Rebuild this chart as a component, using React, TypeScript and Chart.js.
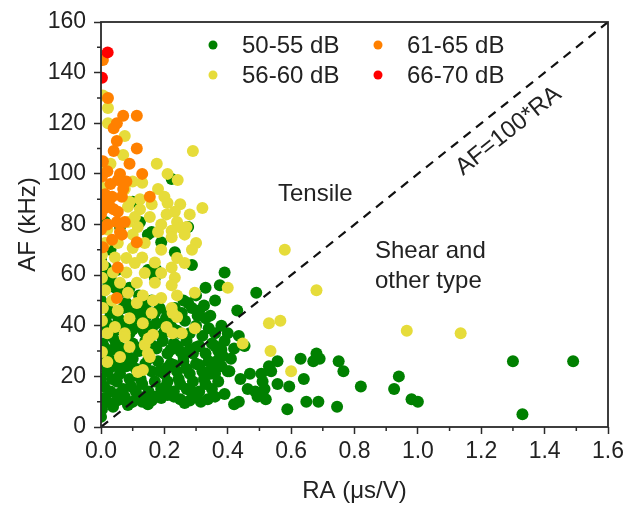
import React, { useEffect, useRef } from "react";
import { Chart, registerables } from "chart.js";
Chart.register(...registerables);

const FONT = "'Liberation Sans', Arial, sans-serif";
const TXT = "#222";
const AX = "#2a2a2a";
const GREEN = "#008000";
const YELLOW = "#e6dc3a";
const ORANGE = "#ff8000";
const RED = "#ff0000";

const seriesLabels = ["50-55 dB", "56-60 dB", "61-65 dB", "66-70 dB"];

// RA (µs/V), AF (kHz)
const green5055: [number, number][] = [
  [1.49, 26], [1.3, 26], [1.33, 5], [1.0, 10], [0.98, 11], [0.94, 20], [0.925, 15], [0.82, 16], [0.765, 22], [0.75, 26], [0.745, 8],
  [0.69, 27], [0.68, 29], [0.67, 26], [0.63, 27], [0.686, 10], [0.648, 10], [0.64, 19], [0.594, 16], [0.588, 7], [0.557, 26],
  [0.557, 17], [0.537, 22], [0.53, 24], [0.516, 15], [0.52, 11], [0.51, 18], [0.506, 21], [0.494, 12], [0.487, 14], [0.47, 21],
  [0.463, 15], [0.453, 32], [0.44, 19], [0.435, 36], [0.435, 10], [0.42, 9], [0.43, 46], [0.49, 53], [0.39, 61], [0.375, 56],
  [0.41, 27], [0.42, 31], [0.405, 22],
  [0.003, 7], [0.02, 10], [0.038, 8], [0.06, 11], [0.09, 9.5], [0.115, 12], [0.13, 10], [0.148, 9], [0.17, 12], [0.21, 12.6],
  [0.23, 12], [0.25, 11], [0.264, 9.5], [0.29, 12], [0.315, 10], [0.337, 11], [0.36, 12], [0.085, 8.7], [0.0, 4],
  [0.0, 19], [0.01, 16], [0.03, 14], [0.05, 18], [0.07, 15], [0.09, 19], [0.11, 14], [0.13, 17], [0.15, 14], [0.17, 18], [0.19, 15],
  [0.21, 18], [0.23, 14], [0.25, 17], [0.27, 15], [0.29, 18], [0.31, 14], [0.33, 17], [0.35, 15], [0.37, 18], [0.39, 13],
  [0.0, 25], [0.02, 22], [0.04, 26], [0.06, 21], [0.08, 24], [0.1, 27], [0.12, 22], [0.15, 27], [0.16, 22], [0.18, 26], [0.2, 21],
  [0.22, 25], [0.24, 22], [0.26, 26], [0.28, 21], [0.3, 25], [0.32, 22], [0.34, 26], [0.36, 21], [0.38, 24], [0.4, 22],
  [0.005, 33], [0.025, 30], [0.045, 34], [0.065, 31], [0.085, 28], [0.1, 33], [0.12, 30], [0.14, 34], [0.175, 31], [0.195, 34],
  [0.21, 29], [0.23, 33], [0.25, 30], [0.26, 28], [0.27, 34], [0.29, 29], [0.31, 32], [0.33, 29], [0.35, 33], [0.37, 30], [0.39, 34],
  [0.0, 38], [0.015, 42], [0.03, 36], [0.045, 40], [0.07, 41], [0.09, 37], [0.11, 40], [0.125, 44], [0.15, 40], [0.175, 41],
  [0.19, 36], [0.205, 43], [0.22, 40], [0.24, 38], [0.265, 42], [0.28, 37], [0.3, 40], [0.305, 44], [0.32, 36], [0.33, 43],
  [0.34, 39], [0.36, 37], [0.38, 40], [0.4, 37],
  [0.0, 50], [0.02, 48], [0.03, 45], [0.01, 54], [0.045, 55], [0.06, 53], [0.08, 49], [0.1, 46], [0.116, 45], [0.12, 52],
  [0.14, 48], [0.16, 50], [0.185, 47], [0.21, 45], [0.233, 47], [0.26, 50], [0.287, 47], [0.31, 46], [0.3, 52], [0.33, 55],
  [0.01, 11.5], [0.05, 10.5], [0.075, 12], [0.1, 10], [0.16, 10.5], [0.19, 11.5], [0.28, 10.5],
  [0.03, 23.5], [0.05, 24.5], [0.11, 23], [0.14, 25], [0.21, 23.5], [0.23, 24.5], [0.27, 23], [0.31, 24.5], [0.35, 23.5],
  [0.01, 31.5], [0.035, 30.5], [0.055, 32], [0.075, 30], [0.11, 31.5], [0.155, 30.5], [0.165, 32], [0.22, 30.5], [0.24, 32],
  [0.28, 30.5], [0.3, 31.5], [0.36, 32], [0.38, 30.5],
  [0.04, 37.5], [0.06, 38.5], [0.08, 37], [0.1, 38.5], [0.135, 37.5], [0.16, 38.5], [0.2, 37.5], [0.23, 38.5], [0.25, 37],
  [0.003, 60], [0.02, 58], [0.05, 62], [0.17, 59], [0.148, 62], [0.175, 62], [0.287, 64], [0.233, 69], [0.148, 76], [0.16, 77],
  [0.123, 81], [0.275, 79], [0.223, 98], [0.013, 81], [0.06, 79], [0.1, 89], [0.03, 70], [0.0, 66], [0.19, 73],
  [0.015, 27], [0.035, 19], [0.055, 13], [0.095, 16], [0.125, 19], [0.14, 12], [0.185, 22], [0.205, 16], [0.245, 19],
  [0.285, 14], [0.325, 19], [0.345, 21], [0.365, 26], [0.385, 28], [0.025, 40], [0.055, 43], [0.095, 42], [0.145, 44],
  [0.17, 45], [0.255, 45], [0.275, 49], [0.325, 48], [0.345, 44], [0.36, 50], [0.015, 63], [0.04, 57], [0.07, 47], [0.09, 55],
];

const yellow5660: [number, number][] = [
  [0.006, 131], [0.022, 126], [0.022, 120], [0.075, 115], [0.29, 109], [0.07, 107.5], [0.003, 102], [0.03, 104], [0.176, 104],
  [0.21, 100], [0.242, 97.6], [0.1, 97], [0.13, 96.5], [0.003, 94.5], [0.18, 94], [0.075, 94], [0.2, 91], [0.09, 89], [0.123, 90],
  [0.16, 88], [0.21, 88.5], [0.085, 87], [0.25, 88], [0.233, 85], [0.32, 86.5], [0.123, 86], [0.154, 83], [0.28, 84], [0.207, 84],
  [0.107, 83], [0.24, 81], [0.19, 80], [0.223, 77.5], [0.085, 81], [0.116, 79], [0.02, 78], [0.255, 78.6], [0.27, 79],
  [0.1, 76], [0.18, 77], [0.223, 75], [0.264, 76], [0.3, 72.7], [0.013, 72.7], [0.053, 72.7], [0.138, 72.7], [0.1, 70.7],
  [0.19, 70], [0.003, 68], [0.044, 67], [0.08, 66.8], [0.13, 67], [0.24, 66.8], [0.287, 70], [0.107, 64.8], [0.17, 65],
  [0.006, 64], [0.223, 63], [0.264, 64.8], [0.038, 61], [0.08, 61], [0.138, 60.8], [0.19, 60.8], [0.233, 59], [0.003, 59],
  [0.113, 57], [0.06, 57], [0.17, 57], [0.223, 56], [0.296, 53], [0.013, 54], [0.085, 53], [0.132, 52], [0.19, 51], [0.24, 52],
  [0.035, 50], [0.113, 49], [0.164, 50], [0.223, 47], [0.006, 47], [0.053, 46], [0.16, 45], [0.24, 43.5], [0.09, 43],
  [0.003, 42], [0.044, 39.5], [0.132, 41], [0.207, 39.5], [0.296, 39], [0.075, 37], [0.255, 37],
  [0.02, 37], [0.075, 35.6], [0.003, 29.6], [0.02, 25.7], [0.06, 27.7], [0.09, 31.6], [0.138, 32.4], [0.154, 27.7],
  [0.132, 22.5], [0.116, 21.7], [0.164, 36.4], [0.226, 37], [0.15, 35], [0.148, 29], [0.226, 45],
  [0.4, 55], [0.58, 70], [0.68, 54], [0.53, 41], [0.566, 42], [0.447, 33], [0.535, 30], [0.6, 22], [0.965, 38], [1.135, 37],
];

const orange6165: [number, number][] = [
  [0.006, 145], [0.022, 130], [0.07, 123], [0.113, 123], [0.05, 120], [0.04, 118], [0.05, 113], [0.113, 110], [0.04, 109],
  [0.006, 105], [0.09, 104], [0.02, 101], [0.06, 100], [0.13, 100], [0.053, 97.6], [0.08, 97], [0.013, 92], [0.07, 94],
  [0.154, 91], [0.035, 91], [0.003, 90], [0.066, 91], [0.013, 86.5], [0.04, 86], [0.053, 85], [0.05, 81], [0.075, 81],
  [0.02, 80], [0.06, 77], [0.066, 76], [0.006, 71], [0.113, 73], [0.053, 63], [0.05, 51], [0.003, 99], [0.03, 96],
  [0.0, 84], [0.025, 88], [0.0, 78], [0.035, 74],
];

const red6670: [number, number][] = [[0.021, 148], [0.003, 138]];

const refLine: [number, number][] = [[0, 0], [1.6, 160]];

const toPts = (a: [number, number][]) => a.map(([x, y]) => ({ x, y }));

const overlay = {
  id: "overlay",
  afterDatasetsDraw(chart: any) {
    const { ctx, chartArea: ca, scales } = chart;
    const xs = scales.x;
    const ys = scales.y;
    ctx.save();
    ctx.strokeStyle = AX;
    ctx.lineWidth = 1.8;
    ctx.strokeRect(ca.left, ca.top, ca.right - ca.left, ca.bottom - ca.top);
    ctx.lineWidth = 1.5;
    ctx.beginPath();
    for (let v = 0.1; v < 1.6; v += 0.2) {
      const px = xs.getPixelForValue(v);
      ctx.moveTo(px, ca.bottom);
      ctx.lineTo(px, ca.bottom + 4);
    }
    for (let v = 10; v < 160; v += 20) {
      const py = ys.getPixelForValue(v);
      ctx.moveTo(ca.left, py);
      ctx.lineTo(ca.left - 4, py);
    }
    ctx.stroke();
    const colors = [GREEN, YELLOW, ORANGE, RED];
    const pos = [[213, 45], [213, 75], [378, 45], [378, 75]];
    ctx.font = `24px ${FONT}`;
    ctx.textBaseline = "middle";
    ctx.textAlign = "left";
    for (let i = 0; i < 4; i++) {
      ctx.fillStyle = colors[i];
      ctx.beginPath();
      ctx.arc(pos[i][0], pos[i][1], 4.5, 0, Math.PI * 2);
      ctx.fill();
      ctx.fillStyle = TXT;
      ctx.fillText(seriesLabels[i], pos[i][0] + 29, pos[i][1] + 1);
    }
    ctx.textBaseline = "alphabetic";
    ctx.fillText("Tensile", 278, 201);
    ctx.fillText("Shear and", 375, 258);
    ctx.fillText("other type", 375, 288);
    const ang = Math.atan2(ca.bottom - ca.top, ca.right - ca.left);
    ctx.translate(463, 176);
    ctx.rotate(-ang);
    ctx.fillText("AF=100*RA", 0, 0);
    ctx.restore();
  },
};

export default function App() {
  const ref = useRef<HTMLCanvasElement>(null);
  useEffect(() => {
    const pointDs = (label: string, data: [number, number][], color: string, order: number) => ({
      type: "scatter" as const,
      label,
      data: toPts(data),
      backgroundColor: color,
      borderWidth: 0,
      pointRadius: 6,
      pointHoverRadius: 6,
      order,
      clip: 0,
    });
    const chart = new Chart(ref.current as HTMLCanvasElement, {
      type: "scatter",
      data: {
        datasets: [
          {
            type: "line",
            label: "AF=100*RA",
            data: toPts(refLine),
            borderColor: "#111",
            borderWidth: 2.2,
            borderDash: [9, 7],
            pointRadius: 0,
            showLine: true,
            fill: false,
            order: 0,
          } as any,
          pointDs(seriesLabels[3], red6670, RED, 1),
          pointDs(seriesLabels[2], orange6165, ORANGE, 2),
          pointDs(seriesLabels[1], yellow5660, YELLOW, 3),
          pointDs(seriesLabels[0], green5055, GREEN, 4),
        ],
      },
      options: {
        animation: false,
        responsive: false,
        devicePixelRatio: 1,
        layout: { padding: { top: 22, right: 27, left: 0, bottom: 0 } },
        plugins: { legend: { display: false }, tooltip: { enabled: false } },
        scales: {
          x: {
            type: "linear",
            min: 0,
            max: 1.6,
            afterFit(s: any) { s.height = 79; },
            ticks: {
              stepSize: 0.2,
              callback: (v: any) => Number(v).toFixed(1),
              font: { family: FONT, size: 23 },
              color: TXT,
              padding: 4,
              maxRotation: 0,
              autoSkip: false,
            },
            grid: { drawOnChartArea: false, drawTicks: true, tickLength: 7, tickColor: AX, tickWidth: 1.5 },
            border: { display: false },
            title: { display: true, text: "RA (μs/V)", font: { family: FONT, size: 24 }, color: TXT, padding: { top: 0, bottom: 0 } },
          },
          y: {
            type: "linear",
            min: 0,
            max: 160,
            afterFit(s: any) { s.width = 101; },
            ticks: {
              stepSize: 20,
              font: { family: FONT, size: 23 },
              color: TXT,
              padding: 8,
              autoSkip: false,
            },
            grid: { drawOnChartArea: false, drawTicks: true, tickLength: 7, tickColor: AX, tickWidth: 1.5 },
            border: { display: false },
            title: { display: true, text: "AF (kHz)", font: { family: FONT, size: 24 }, color: TXT, padding: { top: 14, bottom: 0 } },
          },
        },
      },
      plugins: [overlay],
    });
    return () => chart.destroy();
  }, []);
  return (
    <div style={{ position: "fixed", left: 0, top: 0, width: 635, height: 506, background: "#fff" }}>
      <canvas ref={ref} width={635} height={506} style={{ display: "block" }} />
    </div>
  );
}
